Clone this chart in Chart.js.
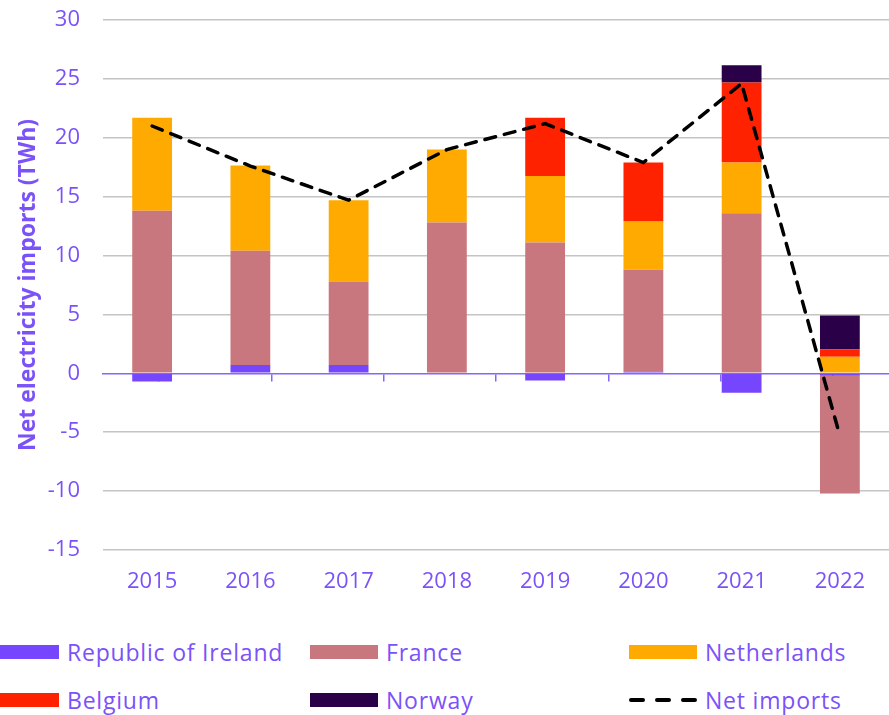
<!DOCTYPE html>
<html>
<head>
<meta charset="utf-8">
<script src="https://cdn.jsdelivr.net/npm/chart.js@4.4.1/dist/chart.umd.min.js"></script>
<style>
  html, body { margin: 0; padding: 0; background: #ffffff; }
  #wrap { position: relative; width: 889px; height: 715px; overflow: hidden; }
  #box { position: absolute; left: 0; top: 0; width: 889px; height: 620px; }
  #legend { position: absolute; left: 0; top: 628px; width: 889px; height: 87px; }
  .item { position: absolute; height: 28px; display: flex; align-items: center;
          font-family: "Open Sans", sans-serif; font-size: 23px; letter-spacing: 0.8px;
          color: #7B52F8; white-space: nowrap; }
  .swatch { width: 68px; height: 14px; margin-right: 8px; flex: none; }
  .swatch svg { display: block; }
</style>
</head>
<body>
<div id="wrap">
  <div id="box"><canvas id="chart"></canvas></div>
  <div id="legend"></div>
</div>
<script>
// Net electricity imports by interconnector country, TWh
const years = ['2015', '2016', '2017', '2018', '2019', '2020', '2021', '2022'];
const ireland     = [-0.7, 0.7, 0.7, 0.0, -0.6, 0.15, -1.65, -0.2];
const france      = [13.8, 9.7, 7.1, 12.8, 11.1, 8.65, 13.6, -10.0];
const netherlands = [7.9, 7.25, 6.9, 6.2, 5.65, 4.1, 4.3, 1.4];
const belgium     = [0, 0, 0, 0, 4.95, 5.0, 6.8, 0.65];
const norway      = [0, 0, 0, 0, 0, 0, 1.45, 2.85];
const netImports  = [21.0, 17.6, 14.7, 19.0, 21.2, 17.9, 24.6, -5.3];

const yTicks = { min: -15, max: 30, step: 5 };

const TEXT = '#7B52F8';
const AXIS = '#8466FF';
const GRID = '#C4C4C4';
const FONT = '"Open Sans", sans-serif';

const barSeries = [
  { label: 'Republic of Ireland', data: ireland,     color: '#7646FF' },
  { label: 'France',              data: france,      color: '#C9777E' },
  { label: 'Netherlands',         data: netherlands, color: '#FFAA00' },
  { label: 'Belgium',             data: belgium,     color: '#FF2200' },
  { label: 'Norway',              data: norway,      color: '#2A0048' }
];

const datasets = barSeries.map(s => ({
  type: 'bar',
  label: s.label,
  data: s.data,
  backgroundColor: s.color,
  borderWidth: 0,
  stack: 'countries',
  barPercentage: 0.405,
  categoryPercentage: 1.0
}));

datasets.push({
  type: 'line',
  label: 'Net imports',
  data: netImports,
  borderColor: '#000000',
  borderWidth: 3.5,
  borderDash: [11, 9],
  borderCapStyle: 'round',
  pointRadius: 0,
  tension: 0,
  fill: false,
  stack: 'net',
  order: -1
});

// keep tick-label overhang from pushing the plot area inwards
const noOverhang = s => { s.paddingTop = 0; s.paddingBottom = 0; s.paddingLeft = 0; s.paddingRight = 0; };

const chart = new Chart(document.getElementById('chart'), {
  data: { labels: years, datasets: datasets },
  options: {
    responsive: true,
    maintainAspectRatio: false,
    animation: false,
    layout: { padding: { top: 20, right: -3, left: 0, bottom: 0 } },
    plugins: {
      legend: { display: false },
      tooltip: { enabled: false }
    },
    scales: {
      x: {
        stacked: true,
        grid: { display: false },
        border: { display: false },
        ticks: { color: TEXT, font: { family: FONT, size: 22 }, padding: 11 },
        afterFit: s => { s.height = 70; noOverhang(s); }
      },
      xZero: {
        type: 'category',
        axis: 'x',
        position: { y: 0 },
        grid: { display: true, drawOnChartArea: false, drawTicks: true, tickLength: 7,
                color: AXIS, lineWidth: 1.5, offset: true },
        border: { display: true, color: AXIS, width: 1.5 },
        ticks: { display: false },
        afterFit: noOverhang
      },
      y: {
        stacked: true,
        min: yTicks.min,
        max: yTicks.max,
        ticks: { stepSize: yTicks.step, color: TEXT, font: { family: FONT, size: 22 }, padding: 23 },
        grid: {
          drawTicks: false,
          lineWidth: 1.5,
          color: ctx => (ctx.tick && ctx.tick.value === 0) ? 'rgba(0,0,0,0)' : GRID
        },
        border: { display: false },
        title: {
          display: true,
          text: 'Net electricity imports (TWh)',
          color: TEXT,
          font: { family: FONT, size: 23, weight: 'bold' },
          padding: { top: 15, bottom: 0 }
        },
        afterFit: s => { s.width = 103; noOverhang(s); }
      }
    }
  }
});

// Legend laid out in three columns, built from the chart's datasets
const legendEl = document.getElementById('legend');
const cols = [-9, 310, 629];
const rows = [10, 58];
chart.data.datasets.forEach((ds, i) => {
  const item = document.createElement('div');
  item.className = 'item';
  item.style.left = cols[i % 3] + 'px';
  item.style.top = rows[Math.floor(i / 3)] + 'px';
  const sw = document.createElement('div');
  sw.className = 'swatch';
  if (ds.type === 'line') {
    sw.innerHTML = '<svg width="68" height="14"><line x1="2" y1="7" x2="66" y2="7" stroke="#000" ' +
      'stroke-width="4" stroke-dasharray="12 14" stroke-linecap="round"/></svg>';
  } else {
    sw.style.background = ds.backgroundColor;
  }
  const tx = document.createElement('span');
  tx.textContent = ds.label;
  item.appendChild(sw);
  item.appendChild(tx);
  legendEl.appendChild(item);
});
</script>
</body>
</html>
